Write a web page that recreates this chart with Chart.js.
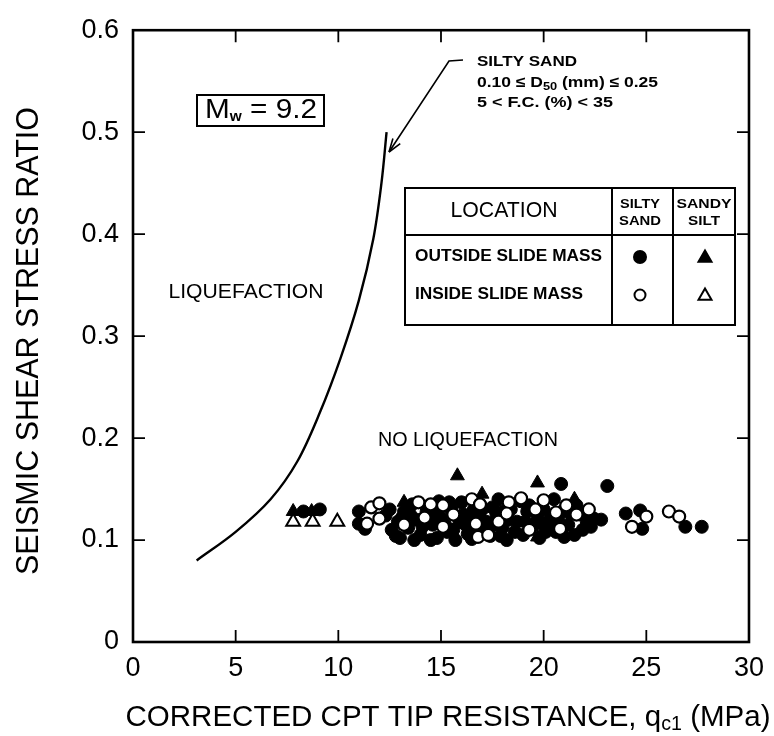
<!DOCTYPE html>
<html><head><meta charset="utf-8">
<script src="https://cdn.jsdelivr.net/npm/chart.js@4/dist/chart.umd.min.js"></script>
<style>html,body{margin:0;padding:0;background:#fff}#wrap{width:774px;height:736px}</style>
</head><body><div id="wrap"><canvas id="c" width="774" height="736"></canvas></div>
<script>
// ---- data ----
const xTicks = [0, 5, 10, 15, 20, 25, 30];
const yTicks = [0, 0.1, 0.2, 0.3, 0.4, 0.5, 0.6];
const boundaryQ   = [3.1, 5.0, 6.7, 8.0, 9.1, 10.1, 11.0, 11.7, 12.1, 12.35];
const boundaryCSR = [0.08, 0.108, 0.14, 0.177, 0.225, 0.278, 0.335, 0.395, 0.45, 0.5];
const outsideSiltySand = [
 [8.3,0.128],[9.1,0.130],[11.0,0.128],[11.0,0.116],[11.3,0.111],
 [12.3,0.124],[12.5,0.130],[12.6,0.110],[12.8,0.104],[12.9,0.118],[13.0,0.102],[13.1,0.122],[13.2,0.128],[13.4,0.112],
 [13.5,0.125],[13.6,0.135],[13.7,0.100],[13.8,0.120],[14.0,0.105],[14.1,0.113],[14.3,0.128],[14.5,0.100],[14.6,0.115],
 [14.7,0.125],[14.8,0.102],[14.9,0.138],[15.0,0.122],[15.2,0.115],[15.3,0.108],[15.4,0.137],[15.5,0.130],[15.6,0.110],
 [15.7,0.100],[15.9,0.118],[16.0,0.137],[16.1,0.125],[16.2,0.115],[16.3,0.106],[16.4,0.119],[16.5,0.101],[16.6,0.130],
 [16.8,0.112],[16.9,0.122],[17.0,0.130],[17.1,0.110],[17.2,0.118],[17.4,0.104],[17.5,0.132],[17.6,0.115],[17.7,0.125],
 [17.8,0.140],[17.9,0.104],[18.0,0.112],[18.0,0.128],[18.2,0.100],[18.3,0.120],[18.4,0.130],[18.6,0.108],[18.7,0.118],
 [18.9,0.138],[19.0,0.105],[19.1,0.118],[19.2,0.128],[19.3,0.134],[19.5,0.115],[19.7,0.123],[19.8,0.102],[19.9,0.116],
 [20.0,0.130],[20.1,0.108],[20.3,0.120],[20.4,0.113],[20.5,0.140],[20.6,0.108],[20.7,0.122],[20.9,0.128],[21.0,0.103],
 [21.2,0.115],[21.3,0.126],[21.5,0.105],[21.6,0.134],[21.8,0.125],[21.9,0.110],[22.1,0.118],[22.3,0.113],[22.45,0.121],
 [22.8,0.120],[20.85,0.155],[23.1,0.153],[24.0,0.126],[24.7,0.129],[24.8,0.111],[26.9,0.113],[27.7,0.113]
];
const insideSiltySand = [
 [11.4,0.116],[11.6,0.132],[12.0,0.136],[12.0,0.121],[13.2,0.115],[13.9,0.137],[14.2,0.122],[14.5,0.135],[15.1,0.134],
 [15.1,0.113],[15.6,0.125],[16.5,0.140],[16.7,0.116],[16.8,0.103],[16.9,0.135],[17.3,0.105],[17.8,0.118],[18.3,0.137],
 [18.2,0.126],[18.9,0.141],[19.3,0.110],[19.6,0.130],[20.0,0.139],[20.6,0.127],[20.8,0.111],[21.1,0.134],[21.6,0.125],
 [22.2,0.130],[24.3,0.113],[25.0,0.123],[26.1,0.128],[26.6,0.123]
];
const outsideSandySilt = [[7.8,0.128],[8.7,0.128],[13.2,0.137],[15.8,0.163],[17.0,0.145],[19.7,0.156],[21.5,0.140],[19.7,0.103]];
const insideSandySilt = [[7.8,0.118],[8.75,0.118],[9.95,0.118]];

const toPts = a => a.map(p => ({x: p[0], y: p[1]}));
const FONT = '"Liberation Sans", Arial, Helvetica, sans-serif';

function fitText(ctx, text, x, y, width, font, align) {
  ctx.save();
  ctx.font = font;
  const w = ctx.measureText(text).width;
  const sx = width ? width / w : 1;
  let x0 = x;
  if (align === 'center') x0 = x - w * sx / 2;
  else if (align === 'right') x0 = x - w * sx;
  ctx.translate(x0, y);
  ctx.scale(sx, 1);
  ctx.textAlign = 'left';
  ctx.textBaseline = 'middle';
  ctx.fillText(text, 0, 0);
  ctx.restore();
}
function runsText(ctx, runs, x, y, width, align) {
  ctx.save();
  let total = 0;
  runs.forEach(r => { ctx.font = r.f; r.w = ctx.measureText(r.t).width; total += r.w; });
  const sx = width ? width / total : 1;
  let x0 = x;
  if (align === 'center') x0 = x - total * sx / 2;
  ctx.translate(x0, y);
  ctx.scale(sx, 1);
  ctx.textAlign = 'left';
  ctx.textBaseline = 'middle';
  let cx = 0;
  runs.forEach(r => { ctx.font = r.f; ctx.fillText(r.t, cx, r.dy || 0); cx += r.w; });
  ctx.restore();
}

const decor = {
  id: 'decor',
  afterDraw(chart) {
    const ctx = chart.ctx, a = chart.chartArea;
    const xs = chart.scales.x, ys = chart.scales.y;
    ctx.save();
    ctx.fillStyle = '#000';
    ctx.strokeStyle = '#000';
    ctx.lineWidth = 2.6;
    ctx.strokeRect(a.left, a.top, a.right - a.left, a.bottom - a.top);
    ctx.lineWidth = 1.8;
    ctx.beginPath();
    xTicks.slice(1, -1).forEach(v => {
      const px = xs.getPixelForValue(v);
      ctx.moveTo(px, a.bottom); ctx.lineTo(px, a.bottom - 12);
      ctx.moveTo(px, a.top); ctx.lineTo(px, a.top + 12);
    });
    yTicks.slice(1, -1).forEach(v => {
      const py = ys.getPixelForValue(v);
      ctx.moveTo(a.left, py); ctx.lineTo(a.left + 12, py);
      ctx.moveTo(a.right, py); ctx.lineTo(a.right - 12, py);
    });
    ctx.stroke();

    ctx.save();
    ctx.translate(29, 341);
    ctx.rotate(-Math.PI / 2);
    fitText(ctx, 'SEISMIC SHEAR STRESS RATIO', 0, 0, 468, '31px ' + FONT, 'center');
    ctx.restore();
    runsText(ctx, [
      {t: 'CORRECTED CPT TIP RESISTANCE, q', f: '30px ' + FONT},
      {t: 'c1', f: '20px ' + FONT, dy: 6},
      {t: ' (MPa)', f: '30px ' + FONT}
    ], 448, 718, 645, 'center');

    fitText(ctx, 'LIQUEFACTION', 246, 292, 155, '20px ' + FONT, 'center');
    fitText(ctx, 'NO LIQUEFACTION', 468, 440, 180, '20px ' + FONT, 'center');

    ctx.lineWidth = 2;
    ctx.strokeRect(197, 95, 127, 31);
    runsText(ctx, [
      {t: 'M', f: '27px ' + FONT},
      {t: 'w', f: 'bold 14px ' + FONT, dy: 6},
      {t: ' = 9.2', f: '27px ' + FONT}
    ], 261, 111, 112, 'center');

    fitText(ctx, 'SILTY SAND', 477, 62, 100, 'bold 15px ' + FONT, 'left');
    runsText(ctx, [
      {t: '0.10 \u2264 D', f: 'bold 15px ' + FONT},
      {t: '50', f: 'bold 11px ' + FONT, dy: 4},
      {t: ' (mm) \u2264 0.25', f: 'bold 15px ' + FONT}
    ], 477, 83, 181, 'left');
    fitText(ctx, '5 < F.C. (%) < 35', 477, 103, 136, 'bold 15px ' + FONT, 'left');
    ctx.lineWidth = 1.6;
    ctx.beginPath();
    ctx.moveTo(463, 60); ctx.lineTo(449, 61); ctx.lineTo(389, 152);
    ctx.stroke();
    const ang = Math.atan2(152 - 61, 389 - 449);
    ctx.beginPath();
    ctx.moveTo(389, 152);
    ctx.lineTo(389 - 14 * Math.cos(ang - 0.3), 152 - 14 * Math.sin(ang - 0.3));
    ctx.moveTo(389, 152);
    ctx.lineTo(389 - 14 * Math.cos(ang + 0.35), 152 - 14 * Math.sin(ang + 0.35));
    ctx.stroke();

    ctx.fillStyle = '#fff';
    ctx.fillRect(405, 188, 330, 137);
    ctx.fillStyle = '#000';
    ctx.lineWidth = 2;
    ctx.strokeRect(405, 188, 330, 137);
    ctx.beginPath();
    ctx.moveTo(405, 235); ctx.lineTo(735, 235);
    ctx.moveTo(612, 188); ctx.lineTo(612, 325);
    ctx.moveTo(673, 188); ctx.lineTo(673, 325);
    ctx.stroke();
    fitText(ctx, 'LOCATION', 504, 211, 107, '22px ' + FONT, 'center');
    fitText(ctx, 'SILTY', 640, 204, 40, 'bold 13px ' + FONT, 'center');
    fitText(ctx, 'SAND', 640, 221, 42, 'bold 13px ' + FONT, 'center');
    fitText(ctx, 'SANDY', 704, 204, 55, 'bold 13px ' + FONT, 'center');
    fitText(ctx, 'SILT', 704, 221, 32, 'bold 13px ' + FONT, 'center');
    fitText(ctx, 'OUTSIDE SLIDE MASS', 415, 257, 187, 'bold 16px ' + FONT, 'left');
    fitText(ctx, 'INSIDE SLIDE MASS', 415, 295, 168, 'bold 16px ' + FONT, 'left');
    const dp = Chart.helpers.drawPoint;
    ctx.lineWidth = 2;
    ctx.fillStyle = '#000';
    dp(ctx, {pointStyle: 'circle', radius: 6, borderWidth: 2}, 640, 257);
    dp(ctx, {pointStyle: 'triangle', radius: 7.5, borderWidth: 2}, 705, 258);
    ctx.fillStyle = '#fff';
    dp(ctx, {pointStyle: 'circle', radius: 5.5, borderWidth: 2}, 640, 295);
    dp(ctx, {pointStyle: 'triangle', radius: 7.5, borderWidth: 2}, 705, 296);
    ctx.restore();
  }
};

new Chart(document.getElementById('c'), {
  type: 'scatter',
  data: {
    datasets: [
      {label: 'Inside slide mass, silty sand', data: toPts(insideSiltySand), pointStyle: 'circle', pointRadius: 6,
       backgroundColor: '#fff', borderColor: '#000', borderWidth: 2.2, order: 1},
      {label: 'Inside slide mass, sandy silt', data: toPts(insideSandySilt), pointStyle: 'triangle', pointRadius: 8,
       backgroundColor: '#fff', borderColor: '#000', borderWidth: 2, order: 2},
      {label: 'Outside slide mass, sandy silt', data: toPts(outsideSandySilt), pointStyle: 'triangle', pointRadius: 8,
       backgroundColor: '#000', borderColor: '#000', borderWidth: 1, order: 3},
      {label: 'Outside slide mass, silty sand', data: toPts(outsideSiltySand), pointStyle: 'circle', pointRadius: 6.5,
       backgroundColor: '#000', borderColor: '#000', borderWidth: 1, order: 4},
      {label: 'Boundary', type: 'line', data: boundaryQ.map((q, i) => ({x: q, y: boundaryCSR[i]})),
       borderColor: '#000', borderWidth: 2.4, pointRadius: 0, fill: false, showLine: true,
       tension: 0.35, order: 5}
    ]
  },
  options: {
    responsive: false,
    animation: false,
    devicePixelRatio: 1,
    layout: {padding: {left: 0, top: 20, right: 17, bottom: 0}},
    plugins: {legend: {display: false}, tooltip: {enabled: false}},
    scales: {
      x: {
        type: 'linear', min: 0, max: 30,
        afterFit: s => { s.height = 94; },
        afterBuildTicks: s => { s.ticks = xTicks.map(v => ({value: v})); },
        grid: {display: false, drawTicks: false},
        border: {display: false},
        ticks: {color: '#000', padding: 10, font: {family: FONT, size: 27}, callback: v => String(v)}
      },
      y: {
        type: 'linear', min: 0, max: 0.6,
        afterFit: s => { s.width = 133; },
        afterBuildTicks: s => { s.ticks = yTicks.map(v => ({value: v})); },
        grid: {display: false, drawTicks: false},
        border: {display: false},
        ticks: {color: '#000', padding: 14, font: {family: FONT, size: 27}, callback: v => (v === 0 ? '0' : v.toFixed(1))}
      }
    }
  },
  plugins: [decor]
});
</script>
</body></html>
